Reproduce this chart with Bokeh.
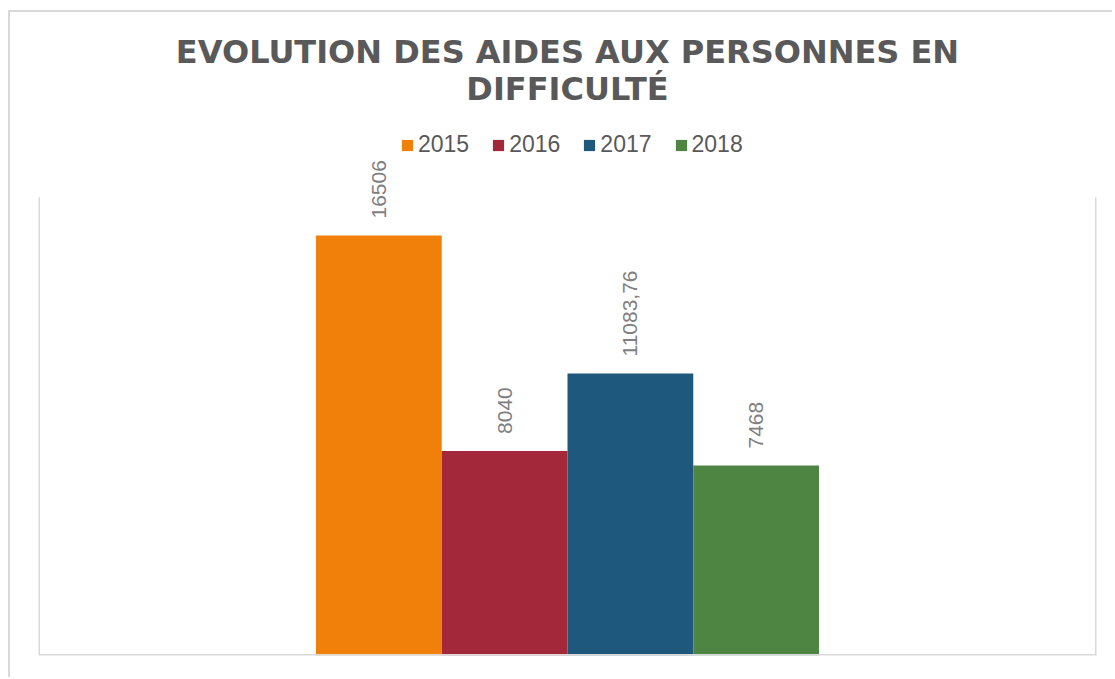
from bokeh.plotting import figure
from bokeh.models import (ColumnDataSource, FactorRange, Range1d, Span, Legend, LegendItem,
                          LabelSet, Label)
from bokeh.core.properties import value
from bokeh.embed import file_html
from bokeh.resources import INLINE
import math

years = ["2015", "2016", "2017", "2018"]
values = [16506, 8040, 11083.76, 7468]
colors = ["#F0800A", "#A2283A", "#1E587C", "#4E8542"]
labels = [f"{v:.2f}".rstrip("0").rstrip(".").replace(".", ",") for v in values]
title_lines = ["EVOLUTION DES AIDES AUX PERSONNES EN", "DIFFICULTÉ"]
y_axis_max = 18000

# layout (pixels)
W, H = 1104, 667
ML, MR, MB = 28, 18, 24
frame_w = W - ML - MR
frame_h = H - MB
plot_h = 458  # height of the plot area (value axis 0..y_axis_max)
pad = 2.2065   # category padding on each side (in bar widths)

src = ColumnDataSource(dict(year=years, value=values, color=colors, label=labels))

p = figure(x_range=FactorRange(*years, range_padding=pad, range_padding_units="absolute"),
           y_range=Range1d(0, y_axis_max * frame_h / plot_h),
           width=W, height=H,
           x_axis_location=None, y_axis_location=None,
           output_backend="svg", toolbar_location=None,
           min_border_left=ML, min_border_right=MR,
           min_border_top=0, min_border_bottom=MB,
           background_fill_color="white", border_fill_color="white",
           outline_line_color=None, title=None)
p.styles = {"margin-left": "8px", "margin-top": "10px",
            "border-top": "2px solid #d9d9d9", "border-left": "2px solid #d9d9d9"}
p.grid.visible = False

# plot-area frame lines (left, right, bottom)
n = len(years)
p.segment(x0=[-pad, n + pad], y0=[0, 0], x1=[-pad, n + pad], y1=[y_axis_max, y_axis_max],
          line_color="#d9d9d9", line_width=3)
p.add_layout(Span(location=0, dimension="width", line_color="#d9d9d9", line_width=3))

r = p.vbar(x="year", top="value", width=1.0, fill_color="color", line_color=None, source=src)

# title
for i, t in enumerate(title_lines):
    p.add_layout(Label(x=frame_w / 2, y=604 - 37 * i, x_units="screen", y_units="screen",
                       text=t, text_align="center", text_baseline="alphabetic",
                       text_font="DejaVu Sans", text_font_size="32px",
                       text_font_style="bold", text_color="#595959"))

items = [LegendItem(label=y, renderers=[r], index=i) for i, y in enumerate(years)]
legend = Legend(items=items, orientation="horizontal", location=(362, 497),
                glyph_width=14, glyph_height=14, label_standoff=4, spacing=22,
                label_text_font="Liberation Sans", label_text_font_size="23px",
                label_text_color="#595959", border_line_color=None,
                background_fill_alpha=0, padding=0, margin=0)
p.add_layout(legend, "center")

lbl = LabelSet(x="year", y="value", text="label", angle=math.pi / 2, text_align="left",
               text_baseline="middle", y_offset=17, text_font=value("Liberation Sans"),
               text_font_size="21px", text_color="#7f7f7f", source=src)
p.add_layout(lbl)

open("out.html", "w").write(file_html(p, INLINE))
